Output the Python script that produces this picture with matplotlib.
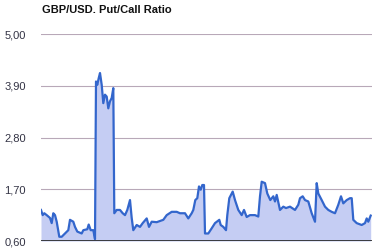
import matplotlib
matplotlib.use("Agg")
import matplotlib.pyplot as plt

title = "GBP/USD. Put/Call Ratio"
y_ticks = [0.60, 1.70, 2.80, 3.90, 5.00]
y_tick_labels = ["0,60", "1,70", "2,80", "3,90", "5,00"]

days = [0, 1.7, 3.3, 5.7, 9, 10.7, 12.3, 14, 15.7, 18.3,
        20.7, 24, 27.3, 29, 32.3, 34, 36.3, 40.7, 42.3, 46.3,
        47.7, 49.7, 52.3, 54, 55, 56.3, 57.7, 59, 60.7, 62.3,
        64, 65.7, 67.3, 69, 70.7, 72.3, 73.3, 75.7, 79, 81.7,
        84, 86.3, 89, 90.7, 92.3, 95.7, 99, 101.7, 105.7, 108,
        110.7, 115.7, 122.3, 125.7, 130.7, 135.7, 139, 144, 147.3, 150.7,
        152.3, 154.3, 156.3, 158, 159.7, 161.3, 163, 164, 167.3, 170.7,
        174, 178.3, 179.7, 182.3, 185, 186.3, 188.3, 191.7, 194, 197.3,
        200.7, 203, 205.7, 209, 214, 217.3, 219, 220.7, 224, 226.3,
        229.3, 232.3, 234, 235.7, 239, 242.3, 245, 249, 254, 257.3,
        259, 261.7, 264, 267.3, 270.7, 274, 275.7, 277.3, 280.7, 284,
        287.3, 290.7, 294, 297.3, 300, 302.3, 305.7, 309, 310.7, 312.3,
        315.7, 320.7, 324, 325.7, 327.3, 329.7]
ratio = [1.26, 1.15, 1.19, 1.15, 1.09, 0.98, 1.19, 1.15, 1.01, 0.69,
         0.69, 0.76, 0.83, 1.05, 1.01, 0.90, 0.80, 0.76, 0.83, 0.85,
         0.95, 0.83, 0.83, 0.64, 3.99, 3.92, 4.06, 4.17, 3.92, 3.53,
         3.71, 3.67, 3.42, 3.57, 3.64, 3.85, 1.19, 1.26, 1.26, 1.19,
         1.15, 1.26, 1.47, 1.09, 0.83, 0.94, 0.90, 0.98, 1.08, 0.90,
         1.01, 1.00, 1.05, 1.15, 1.22, 1.22, 1.19, 1.19, 1.08, 1.19,
         1.26, 1.47, 1.51, 1.76, 1.69, 1.79, 1.79, 0.76, 0.76, 0.87,
         0.98, 1.05, 0.94, 0.90, 0.83, 1.15, 1.51, 1.65, 1.47, 1.26,
         1.15, 1.26, 1.11, 1.15, 1.15, 1.12, 1.55, 1.86, 1.83, 1.61,
         1.47, 1.55, 1.44, 1.58, 1.26, 1.33, 1.30, 1.33, 1.26, 1.37,
         1.51, 1.55, 1.47, 1.44, 1.19, 1.01, 1.83, 1.61, 1.47, 1.33,
         1.26, 1.22, 1.19, 1.37, 1.55, 1.40, 1.47, 1.51, 1.51, 1.05,
         0.98, 0.94, 0.98, 1.08, 1.01, 1.14]

plt.rcParams['font.family'] = ['Liberation Sans', 'DejaVu Sans']

fig = plt.figure(figsize=(3.81, 2.49), dpi=100)
ax = fig.add_axes([41/381, 1 - 241/249, 331/381, (241 - 34)/249])

ax.fill_between(days, 0.6, ratio, color="#c5cdf3", linewidth=0, zorder=2)
ax.plot(days, ratio, color="#3366cc", linewidth=1.6, zorder=3)

ax.set_ylim(0.6, 5.0)
ax.set_xlim(0, 331)
ax.set_yticks(y_ticks)
ax.set_yticklabels(y_tick_labels)
ax.set_xticks([])
for v in y_ticks[1:]:
    ax.axhline(v, color="#b8a8b8", linewidth=0.8, zorder=1)
ax.axhline(0.6, color="#222222", linewidth=1.2, zorder=4)
for s in ax.spines.values():
    s.set_visible(False)
ax.tick_params(axis='y', length=0, pad=11, labelsize=8, labelcolor="#333344")

fig.text(42/381, 1 - 10/249, title, fontsize=8, fontweight='bold', color="#111111",
         ha='left', va='center')

fig.savefig("out.png", dpi=100)
